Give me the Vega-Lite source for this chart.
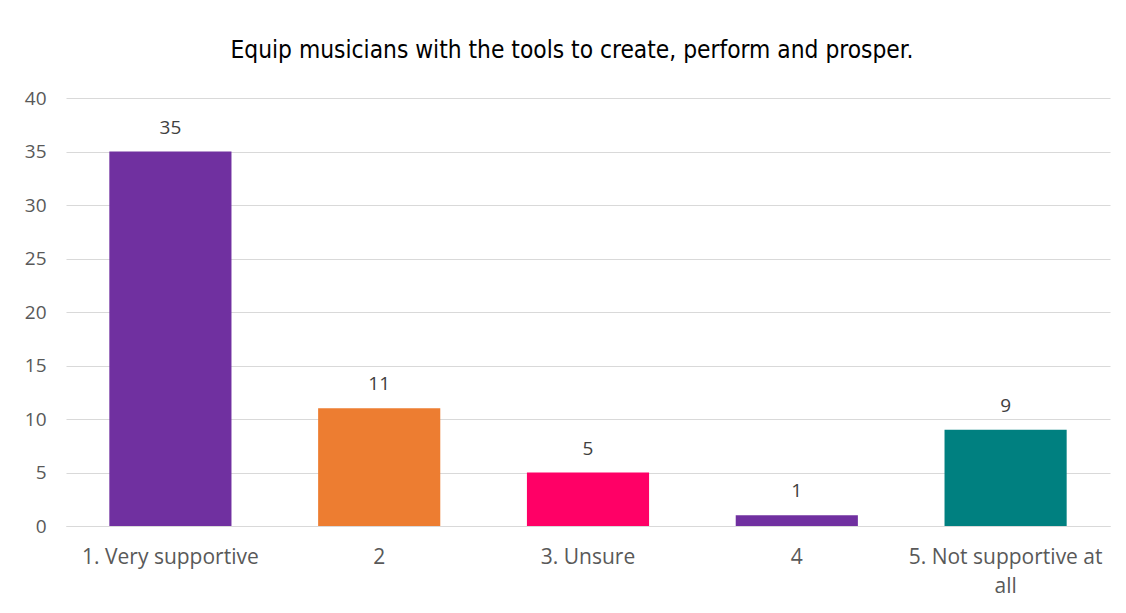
{
  "$schema": "https://vega.github.io/schema/vega-lite/v6.json",
  "autosize": {"type": "none"},
  "width": 1044,
  "height": 428,
  "padding": {"left": 66, "top": 98, "right": 16, "bottom": 87},
  "background": "white",
  "title": {
    "text": "Equip musicians with the tools to create, perform and prosper.",
    "font": "DejaVu Sans Condensed, Roboto",
    "fontSize": 24.3,
    "fontWeight": "normal",
    "color": "#000000",
    "anchor": "middle",
    "dx": -16,
    "offset": 26
  },
  "data": {
    "values": [
      {"label": "1. Very supportive", "count": 35, "color": "#7030A0"},
      {"label": "2", "count": 11, "color": "#ED7D31"},
      {"label": "3. Unsure", "count": 5, "color": "#FF0066"},
      {"label": "4", "count": 1, "color": "#7030A0"},
      {"label": "5. Not supportive at all", "count": 9, "color": "#008080"}
    ]
  },
  "config": {
    "view": {"stroke": null},
    "axis": {"labelFont": "Open Sans", "labelFontSize": 19, "labelColor": "#595959"}
  },
  "encoding": {
    "x": {
      "field": "label",
      "type": "nominal",
      "sort": null,
      "scale": {"paddingInner": 0.415, "paddingOuter": 0.2075},
      "axis": {
        "title": null,
        "labelAngle": 0,
        "ticks": false,
        "domainColor": "#d9d9d9",
        "domainWidth": 1,
        "labelFontSize": 21,
        "labelLimit": 400,
        "labelPadding": 31,
        "labelBaseline": "middle",
        "labelLineHeight": 29,
        "labelExpr": "datum.label == '5. Not supportive at all' ? ['5. Not supportive at', 'all'] : datum.label"
      }
    },
    "y": {
      "field": "count",
      "type": "quantitative",
      "scale": {"domain": [0, 40]},
      "axis": {
        "title": null,
        "values": [0, 5, 10, 15, 20, 25, 30, 35, 40],
        "domain": false,
        "ticks": false,
        "gridColor": "#d9d9d9",
        "gridWidth": 1,
        "labelPadding": 20
      }
    }
  },
  "layer": [
    {
      "mark": {"type": "bar"},
      "encoding": {"color": {"field": "color", "type": "nominal", "scale": null}}
    },
    {
      "mark": {"type": "text", "dy": -24, "font": "Open Sans", "fontSize": 19, "color": "#404040", "baseline": "middle"},
      "encoding": {"text": {"field": "count", "type": "quantitative"}}
    }
  ]
}
